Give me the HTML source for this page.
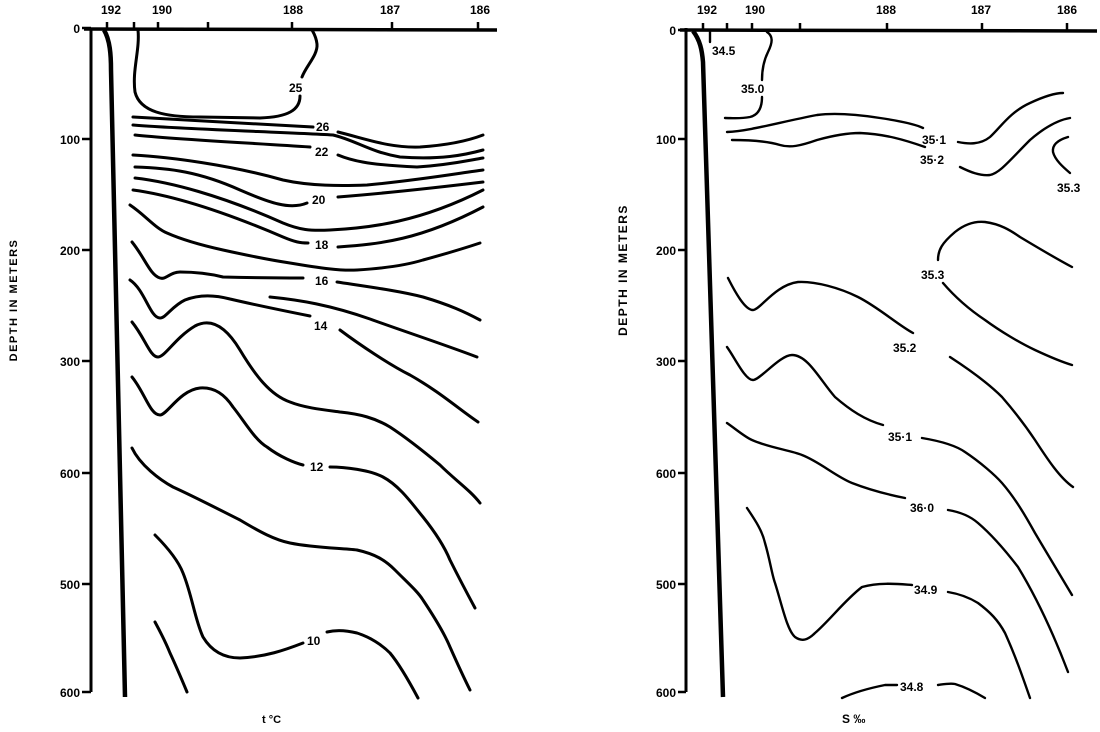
<!DOCTYPE html>
<html><head><meta charset="utf-8"><style>
html,body{margin:0;padding:0;background:#fff}
svg{display:block}
text{font-family:"Liberation Sans",sans-serif;font-weight:bold;fill:#000}
.c{fill:none;stroke:#000;stroke-width:3;stroke-linecap:round;stroke-linejoin:round}
.l{font-size:12px}
</style></head><body>
<svg width="1100" height="732" viewBox="0 0 1100 732" xmlns="http://www.w3.org/2000/svg">
<!-- LEFT PANEL -->
<g stroke="#000" fill="none">
<line x1="91" y1="28" x2="91" y2="692" stroke-width="3"/>
<line x1="84" y1="29" x2="497" y2="30" stroke-width="3.5"/>
<path d="M104,30 C110,40 111,55 111,70 L125,697" stroke-width="4.5"/>
<g stroke-width="2.5">
<line x1="82" y1="28" x2="91" y2="28"/><line x1="82" y1="139" x2="91" y2="139"/>
<line x1="82" y1="250" x2="91" y2="250"/><line x1="82" y1="361" x2="91" y2="361"/>
<line x1="82" y1="473" x2="91" y2="473"/><line x1="82" y1="584" x2="91" y2="584"/>
<line x1="82" y1="692" x2="91" y2="692"/>
<line x1="107" y1="22" x2="107" y2="30"/><line x1="134" y1="22" x2="134" y2="30"/>
<line x1="158" y1="22" x2="158" y2="30"/><line x1="208" y1="22" x2="208" y2="30"/>
<line x1="292" y1="22" x2="292" y2="30"/><line x1="392" y1="22" x2="392" y2="30"/>
<line x1="478" y1="22" x2="478" y2="30"/>
</g>
</g>
<g class="c">
<path d="M138,30 C140,50 132,70 135,92 C140,112 165,117 200,117 L260,118 C288,117 300,110 300,96"/>
<path d="M302,77 C306,66 318,55 317,44 C316,36 313,32 312,30"/>
<path d="M133,117 C180,120 260,124 313,127"/>
<path d="M338,132 C370,140 390,148 420,147 C450,145 470,140 483,135"/>
<path d="M133,125 C180,129 280,132 333,135 C355,140 370,152 400,157 C440,160 465,155 483,150"/>
<path d="M135,135 C170,139 250,143 310,147"/>
<path d="M338,155 C350,160 367,165 417,167 C450,165 470,160 483,158"/>
<path d="M133,155 C170,157 230,165 283,180 C310,186 340,186 367,185 C420,180 460,173 483,170"/>
<path d="M135,167 C170,168 200,172 240,190 C270,203 290,210 307,203"/>
<path d="M338,197 C400,192 450,186 483,182"/>
<path d="M135,178 C170,182 220,195 283,223 C300,230 310,231 330,230 C370,228 420,222 483,190"/>
<path d="M133,190 C170,195 220,210 283,237 C295,242 300,243 308,243"/>
<path d="M338,247 C380,244 420,240 483,207"/>
<path d="M130,205 C145,215 155,228 167,233 C185,241 205,246 223,250 C250,256 270,260 290,263 C320,268 340,271 357,270 C390,268 410,264 423,260 C445,254 465,248 480,243"/>
<path d="M132,242 C145,258 150,275 160,278 C166,280 170,272 180,272 C200,272 215,275 223,277 C260,278 290,278 303,278"/>
<path d="M337,282 C370,287 400,291 423,297 C450,305 465,312 480,320"/>
<path d="M130,280 C145,290 150,318 160,318 C166,318 172,306 185,300 C200,294 215,295 230,299 C260,306 290,312 310,316"/>
<path d="M270,297 C300,300 330,305 370,319 C400,330 440,343 477,357"/>
<path d="M340,330 C360,345 390,365 410,375 C440,392 460,410 478,422"/>
<path d="M132,322 C145,338 150,357 158,357 C165,357 175,338 195,326 C210,318 225,325 240,350 C255,375 270,395 290,402 C305,408 325,410 340,412 C360,414 375,418 390,427 C410,440 428,455 440,465 C455,480 470,490 480,503"/>
<path d="M132,377 C145,393 150,415 160,415 C167,415 180,390 200,388 C215,387 225,395 233,407 C245,422 255,440 267,447 C280,457 295,463 303,465"/>
<path d="M330,467 C345,467 370,470 383,477 C400,486 413,505 423,517 C435,532 445,548 450,560 C460,580 468,595 475,608"/>
<path d="M132,448 C140,465 160,480 173,487 C195,497 220,510 240,520 C260,532 275,540 290,543 C315,548 340,548 357,550 C375,554 385,560 395,570 C410,585 418,592 423,600 C435,618 445,635 450,647 C458,665 465,680 470,690"/>
<path d="M155,535 C165,545 178,560 183,573 C192,595 195,620 203,637 C212,652 225,658 240,658 C265,657 285,650 303,643"/>
<path d="M327,632 C335,630 345,630 357,633 C370,637 382,645 390,653 C400,665 410,683 418,698"/>
<path d="M155,622 C162,635 166,643 170,653 C177,668 182,680 187,692"/>
</g>
<g class="l">
<text x="289" y="92">25</text>
<text x="316" y="131">26</text>
<text x="315" y="156">22</text>
<text x="312" y="204">20</text>
<text x="315" y="249">18</text>
<text x="315" y="285">16</text>
<text x="314" y="330">14</text>
<text x="310" y="471">12</text>
<text x="307" y="645">10</text>
<text x="101" y="14">192</text><text x="152" y="14">190</text>
<text x="283" y="14">188</text><text x="380" y="14">187</text><text x="470" y="14">186</text>
<g text-anchor="end">
<text x="80" y="33">0</text><text x="80" y="144">100</text><text x="80" y="255">200</text>
<text x="80" y="366">300</text><text x="80" y="478">600</text><text x="80" y="589">500</text><text x="80" y="697">600</text>
</g>
<text x="262" y="723" font-size="11">t °C</text>
<text transform="translate(17,300) rotate(-90)" text-anchor="middle" font-size="11" letter-spacing="1.5">DEPTH IN METERS</text>
</g>

<!-- RIGHT PANEL -->
<g stroke="#000" fill="none">
<line x1="686" y1="28" x2="686" y2="692" stroke-width="3"/>
<line x1="680" y1="30" x2="1097" y2="31" stroke-width="3.5"/>
<path d="M693,31 C700,40 702,50 703,62 L723,697" stroke-width="4.5"/>
<g stroke-width="2.5">
<line x1="678" y1="30" x2="686" y2="30"/><line x1="678" y1="139" x2="686" y2="139"/>
<line x1="678" y1="250" x2="686" y2="250"/><line x1="678" y1="361" x2="686" y2="361"/>
<line x1="678" y1="473" x2="686" y2="473"/><line x1="678" y1="584" x2="686" y2="584"/>
<line x1="678" y1="692" x2="686" y2="692"/>
<line x1="703" y1="23" x2="703" y2="31"/><line x1="727" y1="23" x2="727" y2="31"/>
<line x1="752" y1="23" x2="752" y2="31"/><line x1="800" y1="23" x2="800" y2="31"/>
<line x1="887" y1="23" x2="887" y2="31"/><line x1="982" y1="23" x2="982" y2="31"/>
<line x1="1067" y1="23" x2="1067" y2="31"/>
</g>
</g>
<g class="c" style="stroke-width:2.4">
<path d="M710,32 L710,42"/>
<path d="M767,32 C773,36 773,42 768,52 C764,60 762,70 762,80"/>
<path d="M762,97 C762,108 758,115 750,117 C740,119 732,118 725,118"/>
<path d="M727,132 C750,131 780,122 817,115 C840,112 867,116 880,118 C900,121 915,124 923,128"/>
<path d="M958,142 C968,144 980,145 990,137 C1000,128 1010,112 1030,103 C1045,96 1055,93 1063,93"/>
<path d="M732,140 C750,140 767,141 780,145 C790,148 800,146 817,140 C835,135 850,133 860,133 C885,134 905,140 925,147"/>
<path d="M960,167 C970,172 980,176 990,175 C1000,173 1010,160 1030,140 C1045,127 1058,120 1070,118"/>
<path d="M1068,137 C1058,140 1052,145 1053,152 C1055,160 1063,167 1070,173"/>
<path d="M938,260 C938,250 942,243 955,232 C965,224 975,221 985,222 C1000,224 1010,230 1020,237 C1035,246 1055,258 1072,267"/>
<path d="M943,283 C955,297 970,310 985,320 C1000,331 1020,343 1035,350 C1050,357 1062,362 1072,365"/>
<path d="M728,278 C735,292 745,310 753,310 C760,310 775,285 798,282 C815,281 840,288 858,297 C878,307 898,325 913,333"/>
<path d="M950,357 C970,370 990,385 1002,397 C1015,412 1025,425 1035,440 C1048,460 1060,478 1073,487"/>
<path d="M727,347 C735,358 745,380 753,380 C760,380 780,355 792,355 C808,355 820,380 835,397 C850,410 865,420 883,425"/>
<path d="M922,438 C940,441 955,445 965,452 C980,462 995,475 1002,483 C1015,498 1025,515 1035,533 C1048,555 1062,578 1072,595"/>
<path d="M727,423 C737,430 745,437 752,440 C770,448 790,450 802,455 C820,462 835,476 852,483 C870,490 890,495 905,498"/>
<path d="M948,510 C960,512 970,516 978,523 C992,535 1005,550 1018,567 C1035,595 1052,630 1068,672"/>
<path d="M747,508 C755,520 762,530 765,543 C770,560 772,575 775,583 C782,605 787,630 795,637 C802,642 808,640 815,633 C830,620 845,600 862,587 C880,582 898,584 912,585"/>
<path d="M948,592 C960,594 970,598 978,603 C990,612 998,620 1005,633 C1015,655 1022,675 1030,698"/>
<path d="M842,698 C855,692 870,688 885,685 L897,685"/>
<path d="M938,685 C945,684 950,683 955,684 C965,687 975,692 985,698"/>
</g>
<g class="l" font-size="11">
<text x="712" y="55">34.5</text>
<text x="741" y="93">35.0</text>
<text x="922" y="144">35·1</text>
<text x="920" y="164">35·2</text>
<text x="1057" y="192">35.3</text>
<text x="921" y="279">35.3</text>
<text x="893" y="352">35.2</text>
<text x="888" y="441">35·1</text>
<text x="910" y="512">36·0</text>
<text x="914" y="594">34.9</text>
<text x="900" y="691">34.8</text>
<text x="697" y="14">192</text><text x="745" y="14">190</text>
<text x="876" y="14">188</text><text x="971" y="14">187</text><text x="1057" y="14">186</text>
<g text-anchor="end">
<text x="676" y="35">0</text><text x="676" y="144">100</text><text x="676" y="255">200</text>
<text x="676" y="366">300</text><text x="676" y="478">600</text><text x="676" y="589">500</text><text x="676" y="697">600</text>
</g>
<text x="842" y="723">S ‰</text>
<text transform="translate(627,270) rotate(-90)" text-anchor="middle" letter-spacing="1.5">DEPTH IN METERS</text>
</g>
</svg>
</body></html>
